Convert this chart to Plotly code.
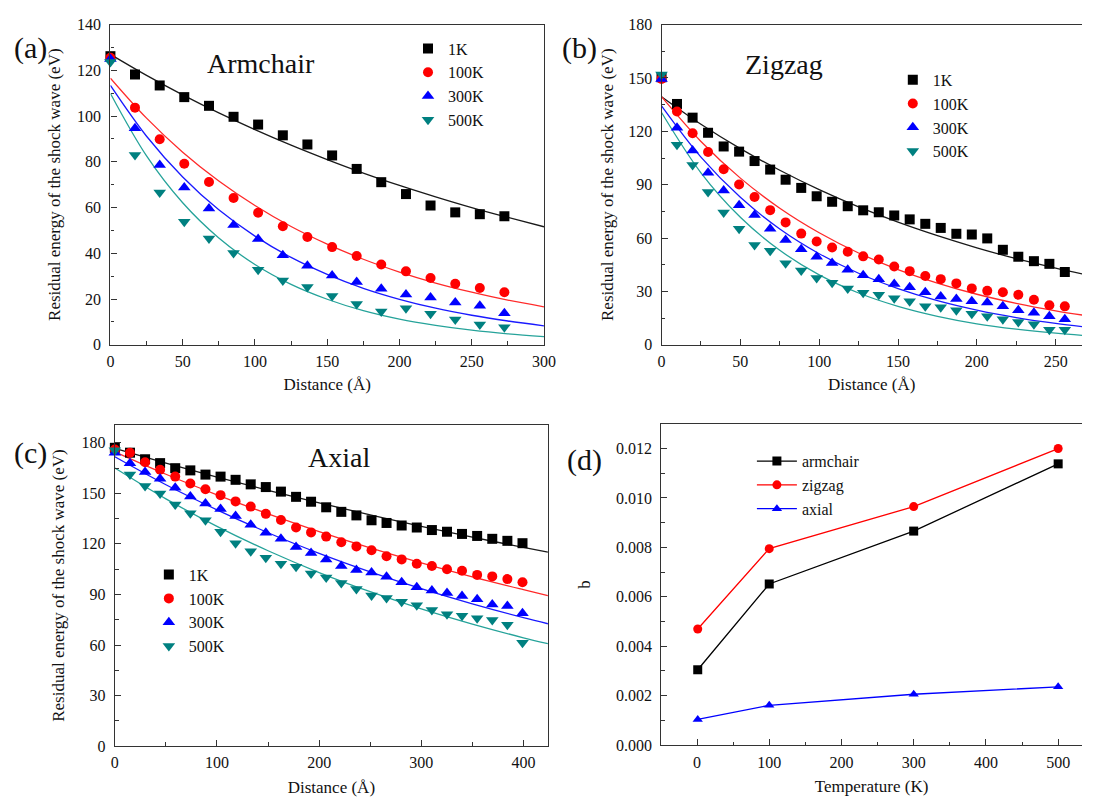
import plotly.graph_objects as go

# ---------------- data ----------------
temps_labels = ["1K", "100K", "300K", "500K"]

# (a) Armchair
arm_x = [0, 17.0, 34.1, 51.1, 68.2, 85.2, 102.2, 119.3, 136.3, 153.4, 170.4, 187.4, 204.5, 221.5, 238.6, 255.6, 272.6]
arm_1K = [126.2, 118.2, 113.4, 108.3, 104.5, 99.7, 96.3, 91.6, 87.6, 82.8, 76.9, 71.1, 65.9, 60.9, 57.9, 57.1, 56.2]
arm_100K = [125.5, 103.7, 89.9, 79.2, 71.2, 64.2, 57.7, 51.8, 47.1, 42.7, 38.8, 35.1, 32.1, 29.2, 26.7, 24.8, 23.0]
arm_300K = [125.0, 94.7, 78.6, 68.8, 59.6, 52.4, 46.2, 39.1, 34.5, 30.3, 27.4, 24.5, 22.0, 20.7, 18.5, 17.1, 13.8]
arm_500K = [123.7, 83.0, 66.6, 53.8, 46.5, 40.1, 32.8, 28.1, 25.3, 21.3, 17.8, 14.6, 16.0, 13.6, 11.0, 8.9, 7.7]

arm_fit_x = [0, 25, 50, 75, 100, 125, 150, 175, 200, 225, 250, 275, 300]
arm_fit_1K = [127.0, 117.8, 109.3, 101.4, 94.1, 87.3, 81.0, 75.1, 69.7, 64.7, 60.0, 55.7, 51.6]
arm_fit_100K = [116.6, 99.1, 84.2, 71.6, 60.9, 51.7, 44.0, 37.4, 31.8, 27.0, 23.0, 19.5, 16.6]
arm_fit_300K = [113.4, 91.2, 73.4, 59.0, 47.5, 38.2, 30.8, 24.7, 19.9, 16.0, 12.9, 10.4, 8.3]
arm_fit_500K = [109.9, 82.6, 62.1, 46.7, 35.1, 26.4, 19.9, 14.9, 11.2, 8.5, 6.4, 4.8, 3.6]

# (b) Zigzag
zig_x = [0, 9.8, 19.7, 29.5, 39.4, 49.2, 59.0, 68.9, 78.7, 88.6, 98.4, 108.2, 118.1, 127.9,
         137.8, 147.6, 157.4, 167.3, 177.1, 187.0, 196.8, 206.6, 216.5, 226.3, 236.2, 246.0, 255.8]
zig_1K = [150.4, 135.4, 127.7, 119.2, 111.5, 108.6, 103.3, 98.5, 92.8, 88.2, 83.5, 80.4, 77.9, 75.6,
          74.5, 72.7, 70.5, 68.0, 65.7, 62.4, 62.0, 59.8, 53.4, 49.5, 47.0, 45.5, 40.9]
zig_100K = [149.5, 131.2, 118.9, 108.4, 98.7, 90.1, 83.1, 75.7, 68.8, 62.5, 58.1, 54.7, 52.3, 49.7,
            47.9, 44.0, 41.4, 38.7, 36.9, 34.5, 31.7, 30.3, 29.5, 28.1, 25.3, 22.2, 21.6]
zig_300K = [149.5, 122.0, 109.2, 96.7, 86.8, 78.5, 73.0, 65.3, 58.9, 53.7, 49.5, 46.0, 42.2, 39.1,
            36.9, 34.1, 32.3, 29.5, 27.1, 25.7, 24.4, 23.8, 21.6, 19.4, 18.0, 16.1, 14.3]
zig_500K = [152.0, 112.5, 101.1, 85.9, 74.3, 65.3, 56.1, 52.8, 45.9, 41.8, 37.6, 34.8, 31.7, 29.3,
            28.1, 26.2, 24.4, 21.6, 21.1, 19.4, 17.4, 16.1, 14.3, 12.8, 11.6, 8.4, 8.4]

zig_fit_x = [0, 25, 50, 75, 100, 125, 150, 175, 200, 225, 250, 267]
zig_fit_1K = [139.5, 124.0, 110.3, 98.1, 87.2, 77.5, 68.9, 61.3, 54.5, 48.4, 43.1, 39.8]
zig_fit_100K = [139.5, 114.3, 93.7, 76.8, 63.0, 51.6, 42.3, 34.7, 28.4, 23.3, 19.1, 16.7]
zig_fit_300K = [134.3, 105.5, 82.9, 65.1, 51.2, 40.2, 31.6, 24.8, 19.5, 15.3, 12.0, 10.2]
zig_fit_500K = [130.6, 96.7, 71.7, 53.1, 39.3, 29.1, 21.6, 16.0, 11.8, 8.8, 6.5, 5.3]

# (c) Axial
ax_x = [0, 14.8, 29.6, 44.3, 59.1, 73.9, 88.7, 103.5, 118.2, 133.0, 147.8, 162.6, 177.4, 192.1,
        206.9, 221.7, 236.5, 251.3, 266.0, 280.8, 295.6, 310.4, 325.2, 339.9, 354.7, 369.5, 384.3, 399.1]
ax_1K = [177.0, 174.1, 170.2, 167.9, 164.9, 163.6, 161.1, 159.9, 158.0, 155.3, 153.7, 151.0, 147.9, 145.0,
         141.7, 139.0, 136.9, 134.0, 132.4, 130.9, 129.7, 128.2, 127.2, 125.9, 124.7, 123.0, 121.8, 120.4]
ax_100K = [176.0, 174.1, 168.4, 164.0, 159.9, 155.8, 152.4, 148.9, 145.2, 142.1, 137.8, 134.2, 129.7, 126.8,
           124.3, 121.0, 118.5, 116.2, 112.7, 110.8, 108.2, 106.9, 104.9, 104.0, 101.6, 100.7, 99.1, 97.2]
ax_300K = [174.0, 167.9, 162.6, 158.7, 153.3, 148.1, 144.0, 140.7, 136.5, 131.4, 126.6, 123.0, 118.1, 114.6,
           110.8, 106.9, 104.5, 103.0, 100.5, 97.2, 94.3, 92.3, 90.8, 89.0, 87.1, 84.0, 83.2, 78.8]
ax_500K = [175.5, 161.1, 154.3, 149.9, 143.3, 138.2, 134.0, 127.2, 120.4, 115.6, 111.7, 108.2, 106.5, 102.4,
           100.1, 96.8, 93.3, 89.4, 87.9, 85.6, 83.6, 80.7, 78.2, 77.4, 75.9, 74.9, 72.0, 61.4]

ax_fit_x = [0, 50, 100, 150, 200, 250, 300, 350, 400, 424]
ax_fit_1K = [176.6, 167.9, 159.6, 151.8, 144.3, 137.2, 130.4, 124.0, 117.9, 115.1]
ax_fit_100K = [174.6, 161.3, 149.1, 137.8, 127.3, 117.6, 108.7, 100.4, 92.8, 89.3]
ax_fit_300K = [171.7, 155.1, 140.2, 126.6, 114.4, 103.4, 93.4, 84.4, 76.2, 72.6]
ax_fit_500K = [165.0, 146.7, 130.4, 115.9, 103.0, 91.6, 81.4, 72.4, 64.3, 60.8]

# (d) decay coefficient b
temperature = [1, 100, 300, 500]
b_armchair = [0.00305, 0.00652, 0.00866, 0.01138]
b_zigzag = [0.00470, 0.00795, 0.00965, 0.01200]
b_axial = [0.00104, 0.00161, 0.00206, 0.00236]

# ---------------- style ----------------
FONT = "Liberation Serif, Times New Roman, serif"
W, H = 1094, 808
mk_colors = ["#000000", "#ff0000", "#0000ff", "#008080"]
ln_colors = ["#1a1a1a", "#ff2a2a", "#1a1aff", "#26a39a"]
symbols = ["square", "circle", "triangle-up", "triangle-down"]
msizes = [10, 10, 11, 11]

fig = go.Figure()

panels = [
    ("", arm_x, [arm_1K, arm_100K, arm_300K, arm_500K], arm_fit_x,
     [arm_fit_1K, arm_fit_100K, arm_fit_300K, arm_fit_500K], "legend"),
    ("2", zig_x, [zig_1K, zig_100K, zig_300K, zig_500K], zig_fit_x,
     [zig_fit_1K, zig_fit_100K, zig_fit_300K, zig_fit_500K], "legend2"),
    ("3", ax_x, [ax_1K, ax_100K, ax_300K, ax_500K], ax_fit_x,
     [ax_fit_1K, ax_fit_100K, ax_fit_300K, ax_fit_500K], "legend3"),
]

for suf, xs, ys, fx, fys, leg in panels:
    for i in range(4):
        fig.add_trace(go.Scatter(
            x=fx, y=fys[i], mode="lines", line=dict(color=ln_colors[i], width=1.3, shape="spline"),
            xaxis="x" + suf, yaxis="y" + suf, showlegend=False, hoverinfo="skip"))
    for i in range(4):
        fig.add_trace(go.Scatter(
            x=xs, y=ys[i], mode="markers", name=temps_labels[i],
            marker=dict(symbol=symbols[i], size=msizes[i], color=mk_colors[i], line=dict(width=0)),
            xaxis="x" + suf, yaxis="y" + suf, legend=leg, cliponaxis=False))

for name, ys, i in [("armchair", b_armchair, 0), ("zigzag", b_zigzag, 1), ("axial", b_axial, 2)]:
    fig.add_trace(go.Scatter(
        x=temperature, y=ys, mode="lines+markers", name=name,
        line=dict(color=mk_colors[i], width=1.3),
        marker=dict(symbol=symbols[i], size=9, color=mk_colors[i]),
        xaxis="x4", yaxis="y4", legend="legend4", cliponaxis=False))


def px_x(p):
    return p / W


def px_y(p):
    return 1 - p / H


tickfont = dict(family=FONT, size=16, color="#111")
titlefont = dict(family=FONT, size=17, color="#111")
LINE = "#333"


def axis(domain, rng, dtick, minor, anchor, title, mirror=True, fmt=None, standoff=None, lso=3):
    d = dict(domain=domain, range=rng, dtick=dtick, tick0=0, anchor=anchor,
             showgrid=False, zeroline=False, showline=True, linecolor=LINE, linewidth=1.3,
             mirror=mirror, ticks="inside", ticklen=6, tickwidth=1.2, tickcolor=LINE,
             tickfont=tickfont, ticklabelstandoff=lso,
             minor=dict(dtick=minor, tick0=0, ticks="inside", ticklen=3.5, tickwidth=1.1,
                        tickcolor=LINE, showgrid=False),
             title=dict(text=title, font=titlefont))
    if standoff is not None:
        d["title"]["standoff"] = standoff
    if fmt:
        d["tickformat"] = fmt
    return d


ya = "Residual energy of the shock wave (eV)"
fig.update_layout(
    width=W, height=H, margin=dict(l=0, r=0, t=0, b=0),
    paper_bgcolor="white", plot_bgcolor="white",
    xaxis=axis([px_x(108), px_x(548)], [0, 300], 50, 25, "y", "Distance (Å)", standoff=8, lso=2),
    yaxis=axis([px_y(344), px_y(17)], [0, 140], 20, 10, "x", ya, standoff=12, lso=5),
    xaxis2=axis([px_x(667.3), 1.0], [0, 266.7], 50, 25, "y2", "Distance (Å)", standoff=8, lso=2),
    yaxis2=axis([px_y(344), px_y(17)], [0, 180], 30, 15, "x2", ya, mirror=False, standoff=10, lso=5),
    xaxis3=axis([px_x(112.5), px_x(552)], [0, 424], 100, 50, "y3", "Distance (Å)", standoff=10, lso=2),
    yaxis3=axis([px_y(754), px_y(426)], [0, 190.5], 30, 15, "x3", ya, standoff=12, lso=5),
    xaxis4=axis([px_x(667), 1.0], [-49.5, 533], 100, 50, "y4", "Temperature (K)", standoff=10, lso=2),
    yaxis4=axis([px_y(753), px_y(425)], [0, 0.01299], 0.002, 0.001, "x4", "b",
                mirror=False, fmt=".3f", standoff=20, lso=5),
)

legfont = dict(family=FONT, size=16, color="#111")
fig.update_layout(
    legend=dict(x=px_x(410), y=px_y(24), xanchor="left", yanchor="top", font=legfont,
                bgcolor="rgba(0,0,0,0)", tracegroupgap=0),
    legend2=dict(x=px_x(902), y=px_y(56), xanchor="left", yanchor="top", font=legfont,
                 bgcolor="rgba(0,0,0,0)"),
    legend3=dict(x=px_x(147), y=px_y(561.5), xanchor="left", yanchor="top", font=legfont,
                 bgcolor="rgba(0,0,0,0)"),
    legend4=dict(x=px_x(759), y=px_y(445.5), xanchor="left", yanchor="top", font=legfont,
                 bgcolor="rgba(0,0,0,0)", itemwidth=40),
)

annots = [
    ("(a)", 27, 41, 30), ("(b)", 584, 41, 30), ("(c)", 27, 455, 30), ("(d)", 589, 462, 30),
    ("Armchair", 261, 57, 28), ("Zigzag", 792, 58, 28), ("Axial", 340, 459, 28),
]
for text, x, y, s in annots:
    fig.add_annotation(text=text, x=px_x(x), y=px_y(y), xref="paper", yref="paper",
                       xanchor="center", yanchor="middle", showarrow=False,
                       font=dict(family=FONT, size=s, color="#111"))

# remove the default page margin synchronously so the 1094x808 figure fills the window exactly
fig.write_html("out.html", config={"displayModeBar": False},
               post_script="}); document.body.style.margin='0px'; "
                           "document.documentElement.style.overflow='hidden'; (function(){")
